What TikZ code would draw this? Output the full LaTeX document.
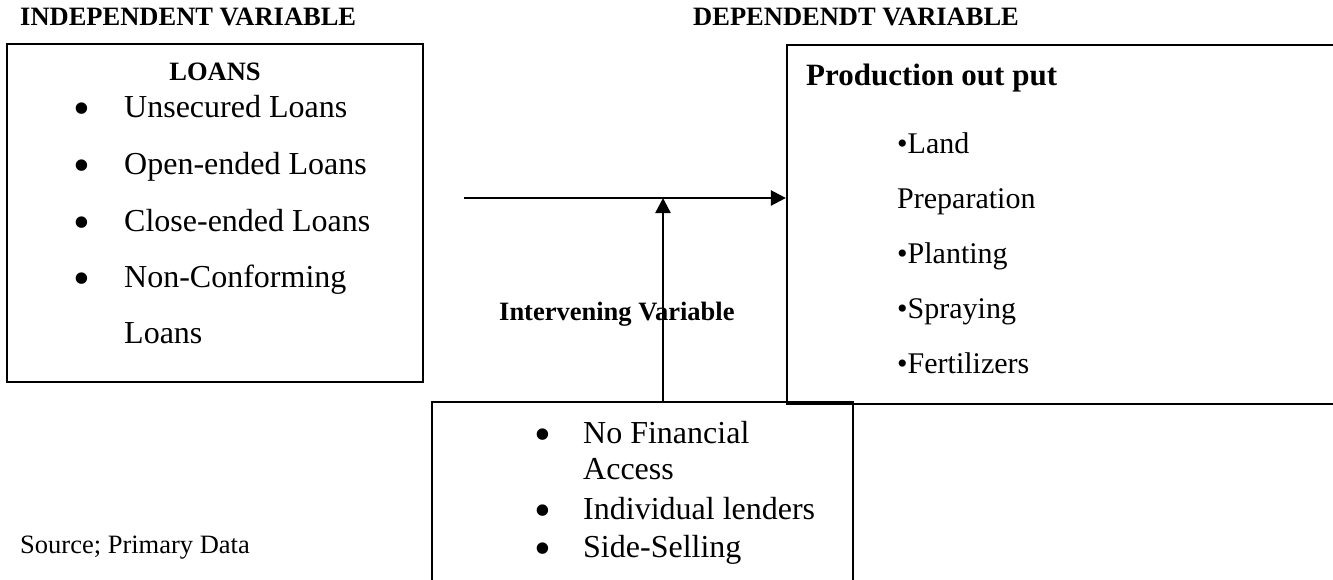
\documentclass[tikz,border=0pt]{standalone}
\usepackage{fontspec}
\setmainfont{Liberation Serif}
\usetikzlibrary{arrows.meta}
\newcommand{\bigbul}{\scalebox{1.5}{•}}
\begin{document}
\begin{tikzpicture}[x=1pt,y=-1pt,
  box/.style={draw,line width=2.2pt,rectangle,inner sep=0pt},
  thinbox/.style={draw,line width=1.4pt,rectangle,inner sep=0pt},
  arr/.style={line width=2.4pt,-{Triangle[length=15pt,width=15pt]}},
  head/.style={anchor=base west,inner sep=0pt,font=\bfseries\fontsize{26.5}{30}\selectfont},
  plain/.style={anchor=base west,inner sep=0pt,font=\fontsize{26.5}{30}\selectfont},
  item/.style={anchor=base west,inner sep=0pt,font=\fontsize{32}{38}\selectfont},
  ritem/.style={anchor=base west,inner sep=0pt,font=\fontsize{30}{36}\selectfont},
  bul/.style={anchor=base,inner sep=0pt,yshift=-7pt,text height=20pt,text depth=0pt,font=\fontsize{32}{36}\selectfont}]
\clip (0,0) rectangle (1333,579);
% headings
\node[head] (hind) at (20,25) {INDEPENDENT VARIABLE};
\node[head] (hdep) at (693,25) {DEPENDENDT VARIABLE};
% boxes
\node[box,minimum width=416pt,minimum height=338pt] (lbox) at (215,213) {};
\node[box,minimum width=558pt,minimum height=359pt] (rbox) at (1066,224.5) {};
\node[thinbox,minimum width=421pt,minimum height=198pt] (bbox) at (642.5,501) {};
% left box text
\node[head,anchor=base] (loans) at (215,80) {LOANS};
\node[bul] (lb1) at (82,117) {\bigbul};
\node[item] (l1) at (124,117) {Unsecured Loans};
\node[bul] (lb2) at (82,174) {\bigbul};
\node[item] (l2) at (124,174) {Open-ended Loans};
\node[bul] (lb3) at (82,231) {\bigbul};
\node[item] (l3) at (124,231) {Close-ended Loans};
\node[bul] (lb4) at (82,287) {\bigbul};
\node[item] (l4) at (124,287) {Non-Conforming};
\node[item] (l5) at (124,343) {Loans};
% right box text
\node[head,font=\bfseries\fontsize{31}{36}\selectfont] (prod) at (806,85) {Production out put};
\node[ritem] (r1) at (897,153) {•Land};
\node[ritem] (r2) at (897,208) {Preparation};
\node[ritem] (r3) at (897,263) {•Planting};
\node[ritem] (r4) at (897,318) {•Spraying};
\node[ritem] (r5) at (897,373) {•Fertilizers};
% bottom box text
\node[bul] (bb1) at (543,443) {\bigbul};
\node[item] (b1) at (583,443) {No Financial};
\node[item] (b2) at (583,479) {Access};
\node[bul] (bb3) at (543,519) {\bigbul};
\node[item] (b3) at (583,519) {Individual lenders};
\node[bul] (bb4) at (543,557) {\bigbul};
\node[item] (b4) at (583,557) {Side-Selling};
% intervening label
\node[head] (interv) at (499,320) {Intervening Variable};
% source
\node[plain] (src) at (20,553) {Source; Primary Data};
% connectors
\coordinate (hstart) at (464,198);
\coordinate (meet) at (663,198);
\draw[arr] (hstart) -- (hstart -| rbox.west);
\draw[arr] (bbox.north -| meet) -- (meet);
\end{tikzpicture}
\end{document}
